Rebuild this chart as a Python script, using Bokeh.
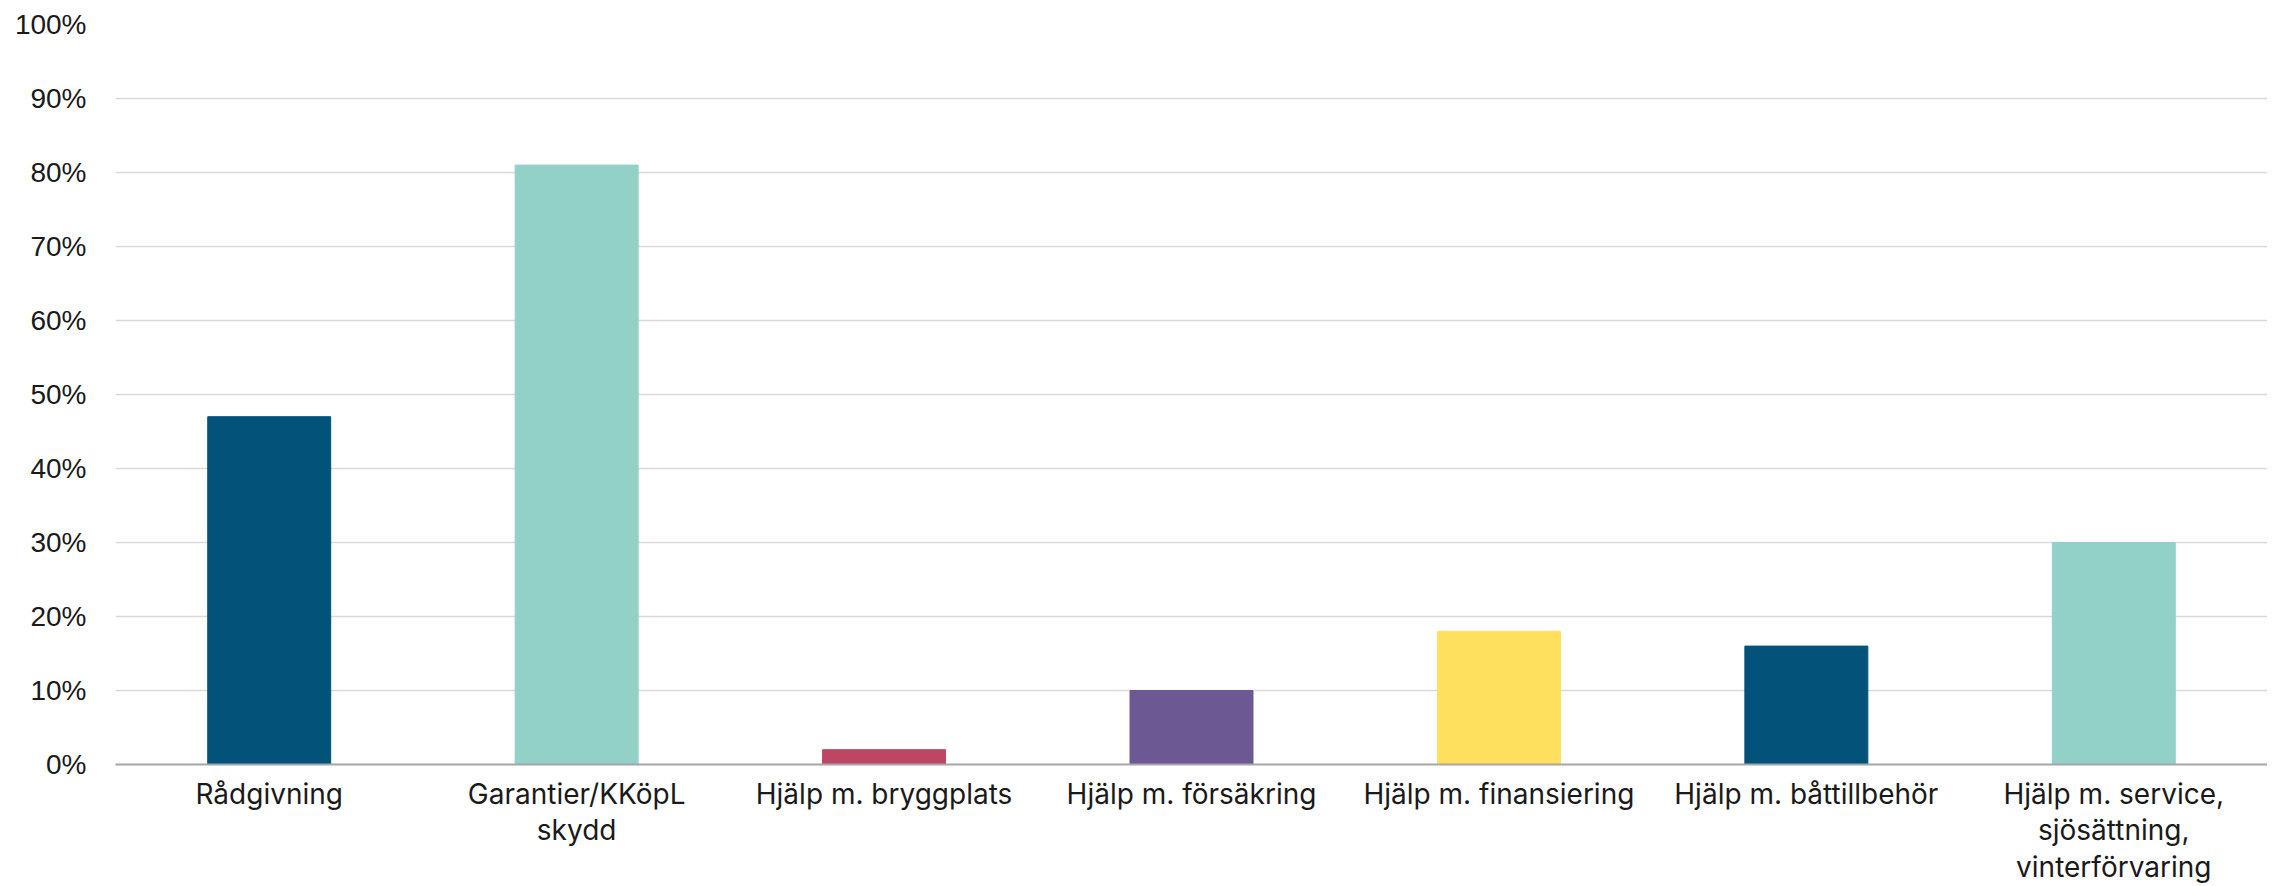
from bokeh.plotting import figure
from bokeh.models import ColumnDataSource, NumeralTickFormatter, FixedTicker, Range1d
from bokeh.embed import file_html
from bokeh.resources import INLINE

categories = [
    "Rådgivning",
    "Garantier/KKöpL\nskydd",
    "Hjälp m. bryggplats",
    "Hjälp m. försäkring",
    "Hjälp m. finansiering",
    "Hjälp m. båttillbehör",
    "Hjälp m. service,\nsjösättning,\nvinterförvaring",
]
values = [0.47, 0.81, 0.02, 0.10, 0.18, 0.16, 0.30]
colors = ["#03527A", "#92D1C8", "#BD4664", "#6C5993", "#FFE05E", "#03527A", "#92D1C8"]
y_ticks = [0.0, 0.1, 0.2, 0.3, 0.4, 0.5, 0.6, 0.7, 0.8, 0.9, 1.0]

src = ColumnDataSource(dict(cat=categories, val=values, color=colors))

p = figure(
    x_range=categories,
    y_range=Range1d(0, 1.0),
    width=2267,
    height=886,
    min_border_left=115,
    min_border_right=0,
    min_border_top=24,
    min_border_bottom=100,
    output_backend="svg",
    toolbar_location=None,
)
p.outline_line_color = None
p.background_fill_color = "white"
p.border_fill_color = "white"

p.vbar(x="cat", top="val", width=0.4, color="color", source=src)

# y axis
p.yaxis.ticker = FixedTicker(ticks=y_ticks)
p.yaxis.formatter = NumeralTickFormatter(format="0%")
p.yaxis.axis_line_color = None
p.yaxis.major_tick_line_color = None
p.yaxis.minor_tick_line_color = None
p.yaxis.major_tick_out = 0
p.yaxis.major_label_standoff = 29
p.yaxis.major_label_text_font = "Liberation Sans"
p.yaxis.major_label_text_font_size = "28px"
p.yaxis.major_label_text_color = "#1a1a1a"

# x axis
p.xaxis.axis_line_color = "#A6A6A6"
p.xaxis.axis_line_width = 2
p.xaxis.major_tick_line_color = None
p.xaxis.minor_tick_line_color = None
p.xaxis.major_tick_out = 0
p.xaxis.major_label_standoff = 12
p.xaxis.major_label_text_font = "Inter"
p.xaxis.major_label_text_font_size = "28px"
p.xaxis.major_label_text_line_height = 1.08
p.xaxis.major_label_text_color = "#1a1a1a"

# grid
p.xgrid.grid_line_color = None
p.ygrid.grid_line_color = "#D9D9D9"
p.ygrid.grid_line_width = 1.5

open("out.html", "w").write(file_html(p, INLINE))
